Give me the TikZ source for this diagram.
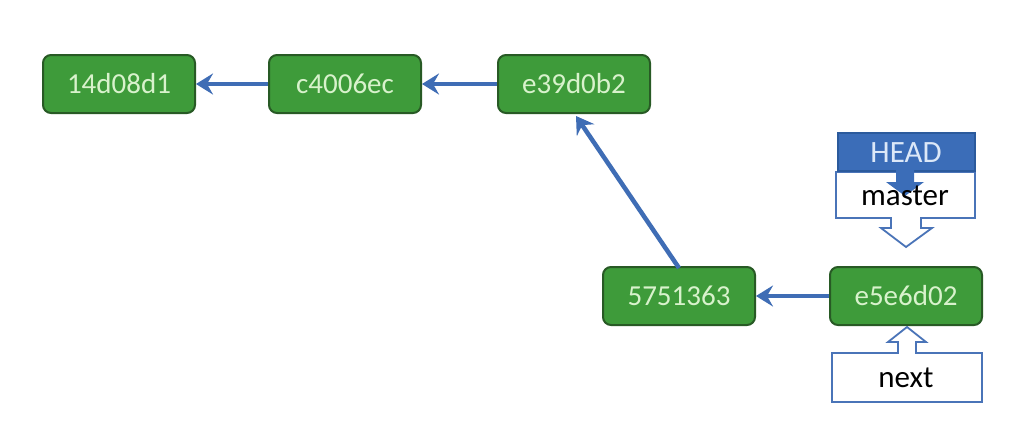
\documentclass[tikz,border=0pt]{standalone}
\usepackage{fontspec}
\setmainfont{Carlito}
\usetikzlibrary{arrows.meta,calc}
\definecolor{cgreen}{HTML}{3E9B3A}
\definecolor{cgborder}{HTML}{285A25}
\definecolor{cgtext}{HTML}{D8F2CC}
\definecolor{cblue}{HTML}{3F6DB5}
\definecolor{cheadfill}{HTML}{3B6DB8}
\definecolor{cheadborder}{HTML}{2B5A9C}
\definecolor{cheadtext}{HTML}{DCE8F8}
\definecolor{cbox}{HTML}{4A74B8}
\begin{document}
\begin{tikzpicture}[x=1pt,y=-1pt,
  commit/.style={draw=cgborder,fill=cgreen,line width=2pt,rounded corners=8pt,
    minimum width=152pt,minimum height=58pt,text=cgtext,font=\fontsize{29}{32}\selectfont,inner sep=0pt},
  link/.style={draw=cblue,line width=4.5pt,-{Stealth[length=17pt,width=21pt,inset=6pt]}},
  lbl/.style={font=\fontsize{31}{33}\selectfont,inner sep=0pt},
  callout/.style={draw=cbox,fill=white,line width=1.8pt,line join=miter}]
\useasboundingbox (0,0) rectangle (1021,437);
\fill[white] (0,0) rectangle (1021,437);
\node[commit] (c1) at (119,84) {14d08d1};
\node[commit] (c2) at (345,84) {c4006ec};
\node[commit] (c3) at (574,84) {e39d0b2};
\node[commit] (c4) at (679,296) {5751363};
\node[commit] (c5) at (906,296) {e5e6d02};
\draw[link] (c2.west) -- (c1.east);
\draw[link] (c3.west) -- (c2.east);
\draw[link] (c5.west) -- (c4.east);
\draw[link] ($(c4.north)+(0,2)$) -- ($(c3.south)+(2,2)$);
% master callout
\draw[callout] (836,172) -- (975,172) -- (975,218) -- (921,218) -- (921,228) -- (932,228)
  -- (906,247) -- (881,228) -- (891,228) -- (891,218) -- (836,218) -- cycle;
% HEAD box and its arrow
\draw[fill=cheadfill,draw=cheadborder,line width=1.8pt] (838,133) rectangle (975,171);
\fill[cheadfill] (896,170) -- (914,170) -- (914,182) -- (924,182) -- (905,196) -- (886,182) -- (896,182) -- cycle;
\node[lbl,text=cheadtext] (head) at (906,153) {HEAD};
\node[lbl] (master) at (905,196) {master};
% next callout
\draw[callout] (832,402) -- (982,402) -- (982,353) -- (916,353) -- (916,342) -- (926,342)
  -- (907,327) -- (888,342) -- (898,342) -- (898,353) -- (832,353) -- cycle;
\node[lbl] (next) at (906,378) {next};
\end{tikzpicture}
\end{document}
